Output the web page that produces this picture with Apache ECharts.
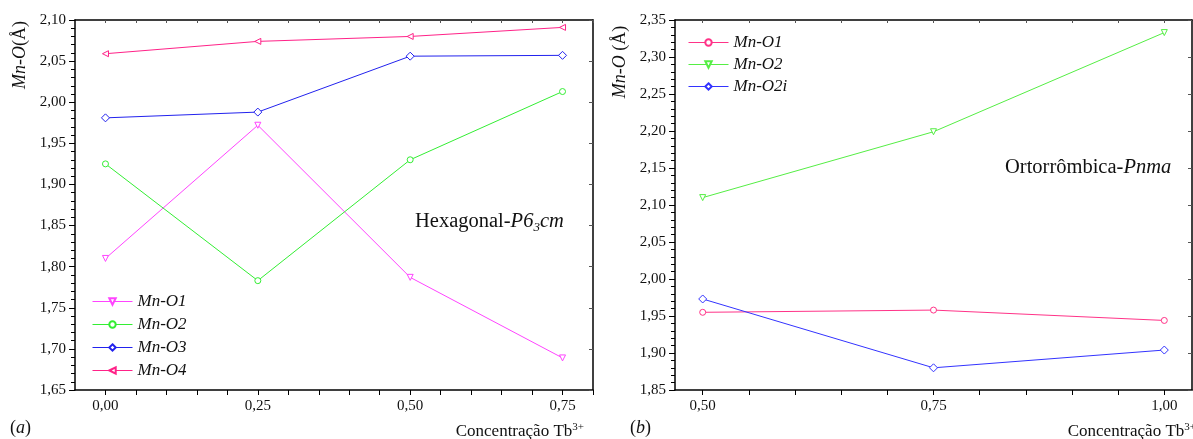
<!DOCTYPE html>
<html>
<head>
<meta charset="utf-8">
<script src="https://cdn.jsdelivr.net/npm/echarts@6/dist/echarts.min.js"></script>
<style>html,body{margin:0;padding:0;background:#fff;}#c{width:1193px;height:439px;}</style>
</head>
<body>
<div id="c"></div>
<script>
// ---- Data: panel (a) Hexagonal ----
const xA = [0.00, 0.25, 0.50, 0.75];
const aMnO1 = [1.810, 1.972, 1.787, 1.689];
const aMnO2 = [1.925, 1.783, 1.930, 2.013];
const aMnO3 = [1.981, 1.988, 2.056, 2.057];
const aMnO4 = [2.059, 2.074, 2.080, 2.091];
const namesA = ['Mn-O1', 'Mn-O2', 'Mn-O3', 'Mn-O4'];
// ---- Data: panel (b) Orthorhombic ----
const xB = [0.50, 0.75, 1.00];
const bMnO1 = [1.955, 1.958, 1.944];
const bMnO2 = [2.110, 2.199, 2.333];
const bMnO2i = [1.973, 1.880, 1.904];
const namesB = ['Mn-O1', 'Mn-O2', 'Mn-O2i'];
// tick labels
const xTicksA = [0, 0.05, 0.10, 0.15, 0.20, 0.25, 0.30, 0.35, 0.40, 0.45, 0.50, 0.55, 0.60, 0.65, 0.70, 0.75, 0.80];
const xLabelsA = [0.00, 0.25, 0.50, 0.75];
const xTicksB = [0.50, 0.55, 0.60, 0.65, 0.70, 0.75, 0.80, 0.85, 0.90, 0.95, 1.00];
const xLabelsB = [0.50, 0.75, 1.00];

const FONT = 'Liberation Serif';
const fmt = v => Number(v).toFixed(2).replace('.', ',');
const zip = (xs, ys) => xs.map((x, i) => [x, ys[i]]);

const colA = ['#ff44ff', '#33ee33', '#2222ee', '#ff2288'];
const colB = ['#ff3388', '#55ee44', '#3333ff'];
const symA = [['triangle', 180], ['circle', 0], ['diamond', 0], ['triangle', 90]];
const symB = [['circle', 0], ['triangle', 180], ['diamond', 0]];
const dataA = [aMnO1, aMnO2, aMnO3, aMnO4];
const dataB = [bMnO1, bMnO2, bMnO2i];

function mkSeries(name, xs, ys, color, sym, idx) {
  return {
    name: name, type: 'line', xAxisIndex: idx, yAxisIndex: idx,
    data: zip(xs, ys), symbol: sym[0], symbolRotate: sym[1], symbolSize: sym[0] === 'diamond' ? 8 : 6,
    showSymbol: true,
    lineStyle: { color: color, width: 1 },
    itemStyle: { color: '#fff', borderColor: color, borderWidth: 1 },
    emphasis: { disabled: true },
    animation: false
  };
}

const series = [];
namesA.forEach((n, i) => series.push(mkSeries(n, xA, dataA[i], colA[i], symA[i], 0)));
namesB.forEach((n, i) => series.push(mkSeries(n + '\u200b', xB, dataB[i], colB[i], symB[i], 2)));

const axisLine = { show: true, onZero: false, lineStyle: { color: '#000', width: 1.5 } };
const labelStyle = { fontFamily: FONT, fontSize: 15, color: '#111' };

function xAxes(gridIndex, min, max, ticks, labels) {
  return [{
    type: 'value', gridIndex: gridIndex, min: min, max: max, position: 'bottom',
    axisLine: axisLine, splitLine: { show: false },
    axisTick: { show: true, inside: false, length: 5, customValues: ticks, lineStyle: { color: '#000' } },
    axisLabel: Object.assign({ show: true, customValues: labels, formatter: fmt, margin: 9 }, labelStyle)
  }, {
    type: 'value', gridIndex: gridIndex, min: min, max: max, position: 'top',
    axisLine: axisLine, splitLine: { show: false },
    axisTick: { show: true, inside: true, length: 3, customValues: ticks, lineStyle: { color: '#555' } },
    axisLabel: { show: false }
  }];
}
function yAxes(gridIndex, min, max) {
  return [{
    type: 'value', gridIndex: gridIndex, min: min, max: max, interval: 0.05, position: 'left',
    axisLine: axisLine, splitLine: { show: false },
    axisTick: { show: true, inside: false, length: 6, lineStyle: { color: '#000' } },
    minorTick: { show: true, splitNumber: 5, length: 4, lineStyle: { color: '#000', width: 1 } },
    axisLabel: Object.assign({ formatter: fmt, margin: 9 }, labelStyle)
  }, {
    type: 'value', gridIndex: gridIndex, min: min, max: max, interval: 0.05, position: 'right',
    axisLine: axisLine, splitLine: { show: false },
    axisTick: { show: true, inside: true, length: 4, lineStyle: { color: '#555' } },
    minorTick: { show: false },
    axisLabel: { show: false }
  }];
}

const xa = xAxes(0, -0.05, 0.80, xTicksA, xLabelsA).concat(xAxes(1, 0.47, 1.03, xTicksB, xLabelsB));
const ya = yAxes(0, 1.65, 2.10).concat(yAxes(1, 1.85, 2.35));

const legendText = { fontFamily: FONT, fontSize: 17, fontStyle: 'italic', color: '#111' };

const option = {
  backgroundColor: '#fff',
  animation: false,
  grid: [
    { left: 75, top: 20, width: 518, height: 370 },
    { left: 675, top: 20, width: 517, height: 370 }
  ],
  xAxis: xa,
  yAxis: ya,
  legend: [
    { orient: 'vertical', left: 87, top: 288, itemWidth: 40, itemHeight: 8, itemGap: 6,
      data: namesA, textStyle: legendText, selectedMode: false, lineStyle: { width: 1 } },
    { orient: 'vertical', left: 683, top: 29, itemWidth: 40, itemHeight: 8, itemGap: 5,
      data: namesB.map(n => n + '\u200b'), textStyle: legendText, selectedMode: false, lineStyle: { width: 1 } }
  ],
  graphic: [
    { type: 'text', x: 20, y: 55, rotation: Math.PI / 2,
      style: { text: '{i|Mn-O}(Å)', fontFamily: FONT, fontSize: 18, fill: '#111', align: 'center', verticalAlign: 'middle',
        rich: { i: { fontFamily: FONT, fontSize: 18, fontStyle: 'italic', fill: '#111' } } } },
    { type: 'text', x: 620, y: 62, rotation: Math.PI / 2,
      style: { text: '{i|Mn-O} (Å)', fontFamily: FONT, fontSize: 18, fill: '#111', align: 'center', verticalAlign: 'middle',
        rich: { i: { fontFamily: FONT, fontSize: 18, fontStyle: 'italic', fill: '#111' } } } },
    { type: 'text', x: 584, y: 432,
      style: { text: 'Concentração Tb{s|3+}', fontFamily: FONT, fontSize: 17, fill: '#111', align: 'right', verticalAlign: 'middle',
        rich: { s: { fontFamily: FONT, fontSize: 11, fill: '#111', verticalAlign: 'top', padding: [0, 0, 10, 0] } } } },
    { type: 'text', x: 1196, y: 432,
      style: { text: 'Concentração Tb{s|3+}', fontFamily: FONT, fontSize: 17, fill: '#111', align: 'right', verticalAlign: 'middle',
        rich: { s: { fontFamily: FONT, fontSize: 11, fill: '#111', verticalAlign: 'top', padding: [0, 0, 10, 0] } } } },
    { type: 'text', x: 10, y: 428,
      style: { text: '({i|a})', fontFamily: FONT, fontSize: 18, fill: '#111', verticalAlign: 'middle',
        rich: { i: { fontFamily: FONT, fontSize: 18, fontStyle: 'italic', fill: '#111' } } } },
    { type: 'text', x: 630, y: 428,
      style: { text: '({i|b})', fontFamily: FONT, fontSize: 18, fill: '#111', verticalAlign: 'middle',
        rich: { i: { fontFamily: FONT, fontSize: 18, fontStyle: 'italic', fill: '#111' } } } },
    { type: 'text', x: 415, y: 222,
      style: { text: 'Hexagonal-{i|P6}{sub|3}{i|cm}', fontFamily: FONT, fontSize: 20.5, fill: '#111', verticalAlign: 'middle',
        rich: { i: { fontFamily: FONT, fontSize: 20.5, fontStyle: 'italic', fill: '#111' },
                sub: { fontFamily: FONT, fontSize: 13, fontStyle: 'italic', fill: '#111', verticalAlign: 'bottom', padding: [12, 0, 0, 0] } } } },
    { type: 'text', x: 1005, y: 168,
      style: { text: 'Ortorrômbica-{i|Pnma}', fontFamily: FONT, fontSize: 20.5, fill: '#111', verticalAlign: 'middle',
        rich: { i: { fontFamily: FONT, fontSize: 20.5, fontStyle: 'italic', fill: '#111' } } } }
  ],
  series: series
};

const chart = echarts.init(document.getElementById('c'), null, { renderer: 'canvas' });
chart.setOption(option);
</script>
</body>
</html>
